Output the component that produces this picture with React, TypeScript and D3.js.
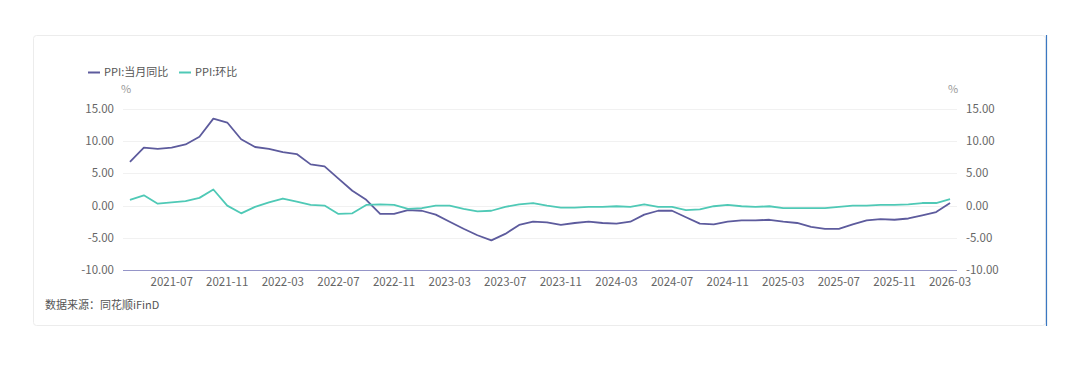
import React, { useEffect, useRef } from 'react';
import * as d3 from 'd3';

// monthly categories 2021-04 .. 2026-03
const months: string[] = [];
for (let y = 2021; y <= 2026; y++) {
  for (let m = 1; m <= 12; m++) {
    if ((y === 2021 && m < 4) || (y === 2026 && m > 3)) continue;
    months.push(`${y}-${String(m).padStart(2, '0')}`);
  }
}

const yoy = [
  6.8, 9.0, 8.8, 9.0, 9.5, 10.7, 13.5, 12.9, 10.3,
  9.1, 8.8, 8.3, 8.0, 6.4, 6.1, 4.2, 2.3, 0.9, -1.3, -1.3, -0.7,
  -0.8, -1.4, -2.5, -3.6, -4.6, -5.4, -4.4, -3.0, -2.5, -2.6, -3.0, -2.7,
  -2.5, -2.7, -2.8, -2.5, -1.4, -0.8, -0.8, -1.8, -2.8, -2.9, -2.5, -2.3,
  -2.3, -2.2, -2.5, -2.7, -3.3, -3.6, -3.6, -2.9, -2.3, -2.1, -2.2, -2.0,
  -1.5, -1.0, 0.4,
];

const mom = [
  0.9, 1.6, 0.3, 0.5, 0.7, 1.2, 2.5, 0.0, -1.2,
  -0.2, 0.5, 1.1, 0.6, 0.1, 0.0, -1.3, -1.2, 0.1, 0.2, 0.1, -0.5,
  -0.4, 0.0, 0.0, -0.5, -0.9, -0.8, -0.2, 0.2, 0.4, 0.0, -0.3, -0.3,
  -0.2, -0.2, -0.1, -0.2, 0.2, -0.2, -0.2, -0.7, -0.6, -0.1, 0.1, -0.1,
  -0.2, -0.1, -0.4, -0.4, -0.4, -0.4, -0.2, 0.0, 0.0, 0.1, 0.1, 0.2,
  0.4, 0.4, 1.0,
];

const yTicks = [-10, -5, 0, 5, 10, 15];
const seriesNames = ['PPI:当月同比', 'PPI:环比'];
const colors = ['#5d5b9d', '#4fc9b6'];
const source = '数据来源：同花顺iFinD';

const FONT = '"Microsoft YaHei", "Noto Sans CJK SC", sans-serif';

export default function App() {
  const ref = useRef<SVGSVGElement>(null);

  useEffect(() => {
    const svg = d3.select(ref.current);
    svg.selectAll('*').remove();

    const W = 1080, H = 366;
    const left = 123, right = 957, top = 109, bottom = 270;

    // card
    svg.append('rect')
      .attr('x', 33.5).attr('y', 35.5).attr('width', 1012).attr('height', 290)
      .attr('rx', 3)
      .attr('fill', '#fff').attr('stroke', '#ececec');
    svg.append('line')
      .attr('x1', 1046.5).attr('x2', 1046.5).attr('y1', 35).attr('y2', 326)
      .attr('stroke', '#3a78c2').attr('stroke-width', 1.2);

    const x = d3.scaleBand<string>().domain(months).range([left, right]);
    const y = d3.scaleLinear().domain([-10, 15]).range([bottom, top]);

    // grid
    svg.append('g').selectAll('line')
      .data(yTicks.filter(t => t !== -10))
      .enter().append('line')
      .attr('x1', left).attr('x2', right)
      .attr('y1', d => Math.round(y(d)) + 0.5).attr('y2', d => Math.round(y(d)) + 0.5)
      .attr('stroke', '#f1f1f1');

    // axis line
    svg.append('line')
      .attr('x1', left).attr('x2', right)
      .attr('y1', bottom + 0.5).attr('y2', bottom + 0.5)
      .attr('stroke', '#9595c8').attr('stroke-width', 1);

    // y labels
    const yl = svg.append('g').attr('font-family', FONT).attr('font-size', 11.5).attr('fill', '#666');
    yl.selectAll('text.l').data(yTicks).enter().append('text')
      .attr('class', 'l')
      .attr('x', 114).attr('y', d => y(d)).attr('dy', '0.35em')
      .attr('text-anchor', 'end').text(d => d.toFixed(2));
    yl.selectAll('text.r').data(yTicks).enter().append('text')
      .attr('class', 'r')
      .attr('x', 966).attr('y', d => y(d)).attr('dy', '0.35em')
      .attr('text-anchor', 'start').text(d => d.toFixed(2));
    yl.append('text').attr('x', 126).attr('y', 93).attr('text-anchor', 'middle')
      .attr('fill', '#999').attr('font-size', 11).text('%');
    yl.append('text').attr('x', 953).attr('y', 93).attr('text-anchor', 'middle')
      .attr('fill', '#999').attr('font-size', 11).text('%');

    // x labels
    svg.append('g').attr('font-family', FONT).attr('font-size', 11.5).attr('fill', '#666')
      .selectAll('text')
      .data(months.filter((_, i) => (i - 3) % 4 === 0))
      .enter().append('text')
      .attr('x', d => (x(d) as number) + x.bandwidth() / 2)
      .attr('y', 286)
      .attr('text-anchor', 'middle')
      .text(d => d);

    const line = d3.line<number>()
      .x((_, i) => (x(months[i]) as number) + x.bandwidth() / 2)
      .y(d => y(d));

    [yoy, mom].forEach((s, k) => {
      svg.append('path')
        .datum(s)
        .attr('fill', 'none')
        .attr('stroke', colors[k])
        .attr('stroke-width', 1.8)
        .attr('stroke-linejoin', 'round')
        .attr('d', line);
    });

    // legend
    const lg = svg.append('g').attr('font-family', FONT).attr('font-size', 11).attr('fill', '#555');
    const lx = [88, 179];
    seriesNames.forEach((n, k) => {
      lg.append('line')
        .attr('x1', lx[k]).attr('x2', lx[k] + 12)
        .attr('y1', 72.5).attr('y2', 72.5)
        .attr('stroke', colors[k]).attr('stroke-width', 2);
      lg.append('text')
        .attr('x', lx[k] + 16).attr('y', 72.5).attr('dy', '0.35em')
        .text(n);
    });

    // source
    svg.append('text')
      .attr('x', 45).attr('y', 305).attr('dy', '0.35em')
      .attr('font-family', FONT).attr('font-size', 11).attr('fill', '#555')
      .text(source);

    svg.attr('width', W).attr('height', H);
  }, []);

  return (
    <svg ref={ref} width={1080} height={366}
      style={{ position: 'absolute', left: 0, top: 0, background: '#fff' }} />
  );
}
